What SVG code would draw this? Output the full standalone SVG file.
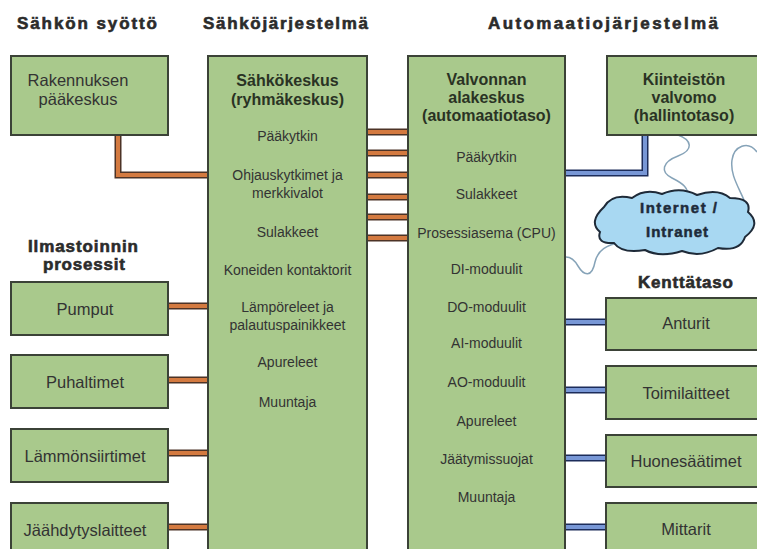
<svg xmlns="http://www.w3.org/2000/svg" width="757" height="549" viewBox="0 0 757 549">
<style>
.box{fill:#a9c98c;stroke:#3b4237;stroke-width:2}
.hdr{font-family:"Liberation Sans",Arial,sans-serif;font-weight:bold;font-size:17px;fill:#2b2b2b;stroke:#2b2b2b;stroke-width:0.6}
.t{font-family:"Liberation Sans",Arial,sans-serif;font-size:16.5px;fill:#333;text-anchor:middle}
.tb{font-family:"Liberation Sans",Arial,sans-serif;font-size:16px;font-weight:bold;fill:#2a3324;text-anchor:middle}
.s{font-family:"Liberation Sans",Arial,sans-serif;font-size:14px;fill:#333;text-anchor:middle}
.wo{stroke:#4d3326;stroke-width:7;fill:none}
.wi{stroke:#d47a40;stroke-width:4;fill:none}
.bo{stroke:#1c2c5a;stroke-width:7;fill:none}
.bi{stroke:#7897d6;stroke-width:4;fill:none}
.wave{stroke:#86a3b8;stroke-width:1.5;fill:none}
.cloud{fill:#a8d8f2;stroke:#1e2a38;stroke-width:2}
.ct{font-family:"Liberation Sans",Arial,sans-serif;font-size:15px;font-weight:bold;fill:#1e2b3a;stroke:#1e2b3a;stroke-width:0.5}
</style>
<rect width="757" height="549" fill="#ffffff"/>

<g id="headers">
<text class="hdr" x="17" y="29" textLength="140" lengthAdjust="spacing">Sähkön syöttö</text>
<text class="hdr" x="203" y="29" textLength="165" lengthAdjust="spacing">Sähköjärjestelmä</text>
<text class="hdr" x="488" y="29" textLength="230" lengthAdjust="spacing">Automaatiojärjestelmä</text>
<text class="hdr" x="28" y="252" textLength="110" lengthAdjust="spacing">Ilmastoinnin</text>
<text class="hdr" x="43" y="270" textLength="82" lengthAdjust="spacing">prosessit</text>
<text class="hdr" x="638" y="288" textLength="95" lengthAdjust="spacing">Kenttätaso</text>
</g>

<g id="connectors">
<g id="wires-power">
<path class="wo" d="M118 135 V175 H208"/><path class="wi" d="M118 135 V175 H208"/>
<path class="wo" d="M367 132 H408 M367 153 H408 M367 175 H408 M367 197 H408 M367 217 H408 M367 238 H408"/>
<path class="wi" d="M367 132 H408 M367 153 H408 M367 175 H408 M367 197 H408 M367 217 H408 M367 238 H408"/>
<path class="wo" d="M167 306 H208 M167 380 H208 M167 453 H208 M167 527 H208"/>
<path class="wi" d="M167 306 H208 M167 380 H208 M167 453 H208 M167 527 H208"/>
</g>
<g id="wires-bus">
<path class="bo" d="M565 173 H645 V135"/><path class="bi" d="M565 173 H645 V135"/>
<path class="bo" d="M565 322 H606 M565 390 H606 M565 458 H606 M565 527 H606"/>
<path class="bi" d="M565 322 H606 M565 390 H606 M565 458 H606 M565 527 H606"/>
</g>
<g id="wireless">
<path class="wave" d="M678 135 C692 140 694 150 678 156 C662 162 660 172 672 178 C684 184 688 188 688 196"/>
<path class="wave" d="M757 152 C748 140 734 146 732 160 C730 174 738 186 744 200"/>
<path class="wave" d="M622 242 C606 245 598 250 595 262 C592 278 584 276 578 266 C574 259 570 257 566 257"/>
</g>
</g>

<g id="n-rakennuksen">
<rect class="box" x="11" y="56" width="157" height="79"/>
<text class="t" x="78" y="86">Rakennuksen</text>
<text class="t" x="78" y="105">pääkeskus</text>
</g>

<g id="n-sahkokeskus">
<rect class="box" x="208" y="56" width="159" height="510"/>
<text class="tb" x="287.5" y="86">Sähkökeskus</text>
<text class="tb" x="287.5" y="105">(ryhmäkeskus)</text>
<text class="s" x="287.5" y="141">Pääkytkin</text>
<text class="s" x="287.5" y="180">Ohjauskytkimet ja</text>
<text class="s" x="287.5" y="198">merkkivalot</text>
<text class="s" x="287.5" y="237">Sulakkeet</text>
<text class="s" x="287.5" y="275">Koneiden kontaktorit</text>
<text class="s" x="287.5" y="312">Lämpöreleet ja</text>
<text class="s" x="287.5" y="330">palautuspainikkeet</text>
<text class="s" x="287.5" y="367">Apureleet</text>
<text class="s" x="287.5" y="407">Muuntaja</text>
</g>

<g id="n-valvonnan">
<rect class="box" x="408" y="56" width="157" height="510"/>
<text class="tb" x="486.5" y="85">Valvonnan</text>
<text class="tb" x="486.5" y="103">alakeskus</text>
<text class="tb" x="486.5" y="121">(automaatiotaso)</text>
<text class="s" x="486.5" y="162">Pääkytkin</text>
<text class="s" x="486.5" y="199">Sulakkeet</text>
<text class="s" x="486.5" y="238">Prosessiasema (CPU)</text>
<text class="s" x="486.5" y="274">DI-moduulit</text>
<text class="s" x="486.5" y="312">DO-moduulit</text>
<text class="s" x="486.5" y="348">AI-moduulit</text>
<text class="s" x="486.5" y="387">AO-moduulit</text>
<text class="s" x="486.5" y="426">Apureleet</text>
<text class="s" x="486.5" y="464">Jäätymissuojat</text>
<text class="s" x="486.5" y="502">Muuntaja</text>
</g>

<g id="n-kiinteiston">
<rect class="box" x="607" y="56" width="165" height="79"/>
<text class="tb" x="684" y="85">Kiinteistön</text>
<text class="tb" x="684" y="103">valvomo</text>
<text class="tb" x="684" y="121">(hallintotaso)</text>
</g>

<g id="n-internet">
<path class="cloud" d="M600 232 Q588 222 604 207 Q612 193 632 198 Q645 188 662 194 Q680 186 697 195 Q718 188 730 198 Q752 198 748 212 Q762 224 745 237 Q740 252 718 248 Q700 258 682 251 Q660 258 645 250 Q622 254 614 243 Q596 244 600 232 Z"/>
<text class="ct" x="640" y="213" textLength="77" lengthAdjust="spacing">Internet /</text>
<text class="ct" x="646" y="237" textLength="62" lengthAdjust="spacing">Intranet</text>
</g>

<g id="n-pumput">
<rect class="box" x="11" y="282" width="157" height="53"/>
<text class="t" x="85" y="315">Pumput</text>
</g>
<g id="n-puhaltimet">
<rect class="box" x="11" y="355" width="157" height="53"/>
<text class="t" x="85" y="388">Puhaltimet</text>
</g>
<g id="n-lammonsiirtimet">
<rect class="box" x="11" y="429" width="157" height="53"/>
<text class="t" x="85" y="462">Lämmönsiirtimet</text>
</g>
<g id="n-jaahdytyslaitteet">
<rect class="box" x="11" y="503" width="157" height="60"/>
<text class="t" x="85" y="536">Jäähdytyslaitteet</text>
</g>

<g id="n-anturit">
<rect class="box" x="606" y="298" width="165" height="52"/>
<text class="t" x="686" y="329">Anturit</text>
</g>
<g id="n-toimilaitteet">
<rect class="box" x="606" y="366" width="165" height="53"/>
<text class="t" x="686" y="399">Toimilaitteet</text>
</g>
<g id="n-huonesaatimet">
<rect class="box" x="606" y="435" width="165" height="52"/>
<text class="t" x="686" y="467">Huonesäätimet</text>
</g>
<g id="n-mittarit">
<rect class="box" x="606" y="503" width="165" height="60"/>
<text class="t" x="686" y="535">Mittarit</text>
</g>
</svg>
